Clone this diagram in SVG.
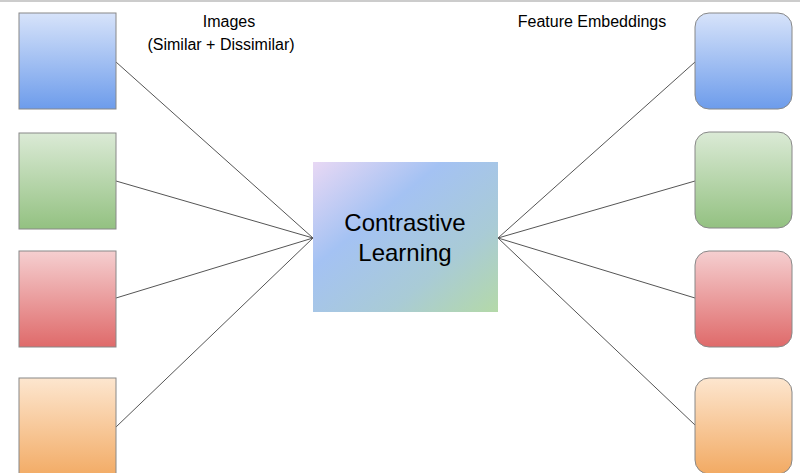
<svg xmlns="http://www.w3.org/2000/svg" width="800" height="473" viewBox="0 0 800 473">
<style>
.n{stroke:#888;stroke-width:1}
.t{font-family:"Liberation Sans",Arial,sans-serif;fill:#000;text-anchor:middle}
.c line{stroke:#555;stroke-width:1}
</style>
<defs>
<linearGradient id="b" x1="0" y1="0" x2="0" y2="1"><stop offset="0" stop-color="#d7e3fa"/><stop offset="1" stop-color="#6d9ceb"/></linearGradient>
<linearGradient id="g" x1="0" y1="0" x2="0" y2="1"><stop offset="0" stop-color="#dbead6"/><stop offset="1" stop-color="#93c181"/></linearGradient>
<linearGradient id="r" x1="0" y1="0" x2="0" y2="1"><stop offset="0" stop-color="#f5cfd0"/><stop offset="1" stop-color="#df6a6a"/></linearGradient>
<linearGradient id="o" x1="0" y1="0" x2="0" y2="1"><stop offset="0" stop-color="#fde6cf"/><stop offset="1" stop-color="#f2aa63"/></linearGradient>
<linearGradient id="m" x1="0" y1="0" x2="1" y2="1"><stop offset="0" stop-color="#e8d8f4"/><stop offset="0.35" stop-color="#a4c2f3"/><stop offset="0.7" stop-color="#a9cbd6"/><stop offset="1" stop-color="#b4d9a8"/></linearGradient>
</defs>
<rect width="800" height="473" fill="#fff"/>
<line x1="0" y1="1" x2="800" y2="1" stroke="#ccc" stroke-width="2"/>
<g class="c" id="connectors">
<line x1="116" y1="62" x2="313" y2="238"/><line x1="116" y1="181" x2="313" y2="238"/>
<line x1="116" y1="298" x2="313" y2="238"/><line x1="116" y1="427" x2="313" y2="238"/>
<line x1="498" y1="238" x2="695" y2="62"/><line x1="498" y1="238" x2="695" y2="181"/>
<line x1="498" y1="238" x2="695" y2="298"/><line x1="498" y1="238" x2="695" y2="425"/>
</g>
<g id="img1"><rect class="n" x="19" y="13" width="97" height="96" fill="url(#b)"/></g>
<g id="img2"><rect class="n" x="19" y="133" width="97" height="96" fill="url(#g)"/></g>
<g id="img3"><rect class="n" x="19" y="251" width="97" height="96" fill="url(#r)"/></g>
<g id="img4"><rect class="n" x="19" y="378" width="97" height="100" fill="url(#o)"/></g>
<g id="emb1"><rect class="n" x="695" y="13" width="97" height="96" rx="14" fill="url(#b)"/></g>
<g id="emb2"><rect class="n" x="695" y="132" width="97" height="96" rx="14" fill="url(#g)"/></g>
<g id="emb3"><rect class="n" x="695" y="251" width="97" height="96" rx="14" fill="url(#r)"/></g>
<g id="emb4"><rect class="n" x="695" y="378" width="97" height="96" rx="14" fill="url(#o)"/></g>
<g id="center"><rect x="313" y="162" width="185" height="150" fill="url(#m)"/>
<text class="t" x="405" y="231" font-size="24">Contrastive</text>
<text class="t" x="405" y="261" font-size="24">Learning</text></g>
<g id="labels">
<text class="t" x="229" y="27" font-size="16">Images</text>
<text class="t" x="221" y="50" font-size="16">(Similar + Dissimilar)</text>
<text class="t" x="592" y="27" font-size="16">Feature Embeddings</text>
</g>
</svg>
